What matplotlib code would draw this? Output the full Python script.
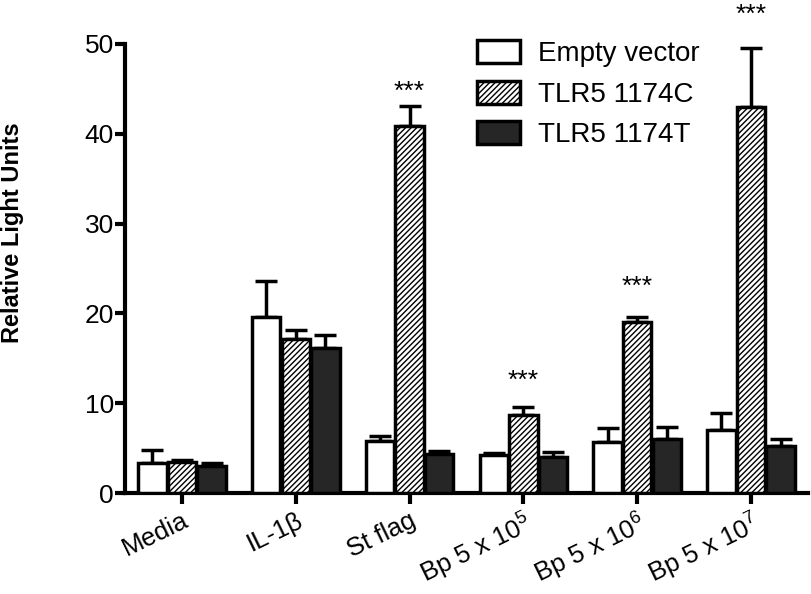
import matplotlib
matplotlib.use("Agg")
import matplotlib.pyplot as plt
import numpy as np

plt.rcParams['font.family'] = ['Liberation Sans', 'DejaVu Sans']
plt.rcParams['mathtext.fontset'] = 'custom'
plt.rcParams['mathtext.rm'] = 'Liberation Sans'
plt.rcParams['mathtext.default'] = 'regular'
plt.rcParams['hatch.linewidth'] = 1.0

# --- data ---
categories = ['Media', 'IL-1β', 'St flag', 'Bp 5 x 10$^{5}$', 'Bp 5 x 10$^{6}$', 'Bp 5 x 10$^{7}$']
series = ['Empty vector', 'TLR5 1174C', 'TLR5 1174T']
empty_vals = [3.3, 19.6, 5.8, 4.2, 5.7, 7.0]
empty_err = [1.5, 4.0, 0.6, 0.3, 1.5, 1.9]
c_vals = [3.4, 17.2, 40.9, 8.7, 19.0, 43.0]
c_err = [0.3, 1.0, 2.2, 0.9, 0.6, 6.5]
t_vals = [3.0, 16.1, 4.3, 4.0, 6.0, 5.2]
t_err = [0.3, 1.5, 0.4, 0.55, 1.3, 0.8]
star_groups = [2, 3, 4, 5]
star_heights = [44.7, 12.5, 23.0, 53.2]

fig = plt.figure(figsize=(8.12, 5.94), dpi=100)
ax = fig.add_axes([0.154, 0.17, 0.841, 0.756])

x = np.arange(len(categories))
w = 0.25
off = 0.26
styles = [dict(color='white', hatch=None),
          dict(color='white', hatch='//////'),
          dict(color='#262626', hatch=None)]
vals = [empty_vals, c_vals, t_vals]
errs = [empty_err, c_err, t_err]

for i, (v, e, st) in enumerate(zip(vals, errs, styles)):
    xi = x + (i - 1) * off
    ax.bar(xi, v, width=w, color=st['color'], edgecolor='black', linewidth=2.5,
           hatch=st['hatch'], label=series[i], zorder=3)
    ax.errorbar(xi, v, yerr=[np.zeros(len(e)), e], fmt='none', ecolor='black',
                elinewidth=2.5, capsize=8, capthick=2.5, zorder=2)

for g, h in zip(star_groups, star_heights):
    ax.text(x[g], h, '***', ha='center', va='center', fontsize=19, clip_on=False)

ax.set_xlim(-0.5, 5.5)
ax.set_ylim(0, 50)
ax.set_yticks([0, 10, 20, 30, 40, 50])
ax.set_xticks(x)
ax.set_xticklabels(categories, rotation=26, ha='right', rotation_mode='anchor', fontsize=18.5)
ax.tick_params(axis='y', labelsize=19, width=3, length=7, direction='out', pad=1)
ax.tick_params(axis='x', width=3, length=8, direction='out', pad=3)
for s in ['top', 'right']:
    ax.spines[s].set_visible(False)
for s in ['left', 'bottom']:
    ax.spines[s].set_linewidth(3)

fig.text(0.016, 0.609, 'Relative Light Units', rotation=90, ha='center', va='center',
         fontsize=17, fontweight='bold')

leg = ax.legend(loc='upper left', bbox_to_anchor=(0.515, 1.008), frameon=False,
                borderaxespad=0, borderpad=0,
                fontsize=20, handlelength=1.55, handleheight=0.9, labelspacing=0.47,
                handletextpad=0.65)
for p in leg.get_patches():
    p.set_linewidth(2.5)

fig.savefig('out.png', dpi=100)
